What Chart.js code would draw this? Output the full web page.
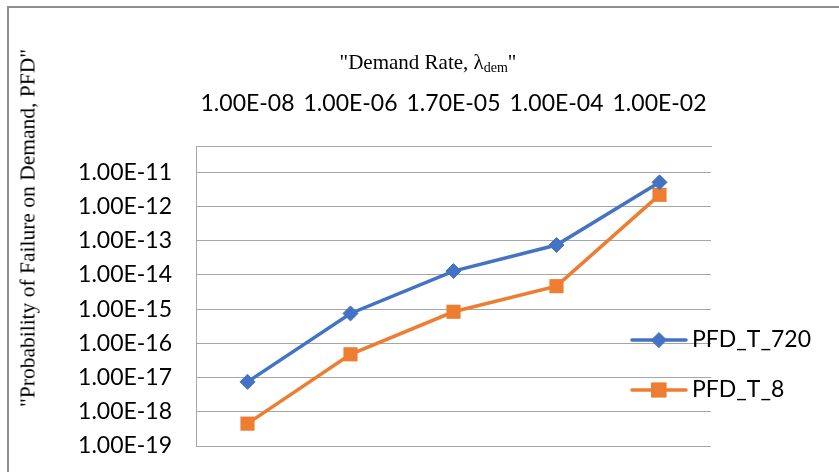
<!DOCTYPE html>
<html>
<head>
<meta charset="utf-8">
<script src="https://cdn.jsdelivr.net/npm/chart.js@4.4.0/dist/chart.umd.min.js"></script>
<style>
  html, body { margin: 0; padding: 0; background: #fff; overflow: hidden; }
  #wrap { position: relative; width: 839px; height: 472px; overflow: hidden; }
  #frame { position: absolute; left: 7px; top: 6px; width: 900px; height: 600px;
           border: 2px solid #8e8e8e; box-sizing: border-box; }
  canvas { position: absolute; left: 0; top: 0; }
  #xTitle { position: absolute; left: 428px; top: 62px; transform: translate(-50%, -50%);
            font: 21px "Liberation Serif", serif; white-space: nowrap; color: #000; }
  #xTitle sub { font-size: 14px; vertical-align: -3px; line-height: 0; }
  #yTitle { position: absolute; left: 28px; top: 228px; transform: translate(-50%, -50%) rotate(-90deg);
            font: 21.5px "Liberation Serif", serif; white-space: nowrap; color: #000; }
</style>
</head>
<body>
<div id="wrap">
  <div id="frame"></div>
  <canvas id="chart" width="839" height="472"></canvas>
  <div id="xTitle">"Demand Rate, λ<sub>dem</sub>"</div>
  <div id="yTitle">"Probability of Failure on Demand, PFD"</div>
</div>
<script>
// Demand rates (category axis, drawn along the top)
const demandRates = ['1.00E-08', '1.00E-06', '1.70E-05', '1.00E-04', '1.00E-02'];

// Probability of failure on demand for the two test intervals
const pfdT720 = [7.5e-18, 7.5e-16, 1.3e-14, 7.5e-14, 5.1e-12];
const pfdT8   = [4.5e-19, 4.8e-17, 8.4e-16, 4.7e-15, 2.2e-12];

const seriesNames = ['PFD_T_720', 'PFD_T_8'];

// Logarithmic PFD axis: one tick per decade
const pfdTickValues = [1e-11, 1e-12, 1e-13, 1e-14, 1e-15, 1e-16, 1e-17, 1e-18, 1e-19];
const pfdTickLabels = ['1.00E-11', '1.00E-12', '1.00E-13', '1.00E-14', '1.00E-15',
                       '1.00E-16', '1.00E-17', '1.00E-18', '1.00E-19'];

const BLUE = '#4472C4';
const ORANGE = '#ED7D31';
const GRID = '#a6a6a6';
const SANS = 'Lato, "Open Sans", sans-serif';

// Legend drawn at the right edge, overlapping the plot area
const sideLegend = {
  id: 'sideLegend',
  afterDraw(chart, args, opts) {
    const ctx = chart.ctx;
    chart.data.datasets.forEach((ds, i) => {
      const y = opts.top + i * opts.spacing;
      ctx.save();
      ctx.strokeStyle = ds.borderColor;
      ctx.lineWidth = ds.borderWidth;
      ctx.lineCap = 'round';
      ctx.beginPath();
      ctx.moveTo(opts.left, y);
      ctx.lineTo(opts.left + opts.lineLength, y);
      ctx.stroke();
      ctx.fillStyle = ds.pointBackgroundColor;
      ctx.strokeStyle = ds.pointBackgroundColor;
      ctx.lineWidth = 1;
      Chart.helpers.drawPoint(ctx, {
        pointStyle: ds.pointStyle, radius: ds.pointRadius, rotation: 0, borderWidth: 1
      }, opts.left + opts.lineLength / 2, y);
      ctx.fillStyle = '#000';
      ctx.font = opts.font;
      ctx.textBaseline = 'middle';
      ctx.textAlign = 'left';
      ctx.fillText(ds.label, opts.textX, y);
      ctx.restore();
    });
  }
};

new Chart(document.getElementById('chart'), {
  type: 'line',
  data: {
    labels: demandRates,
    datasets: [
      {
        label: seriesNames[0],
        data: pfdT720,
        borderColor: BLUE,
        backgroundColor: BLUE,
        pointBackgroundColor: BLUE,
        pointBorderColor: BLUE,
        borderWidth: 3.5,
        pointStyle: 'rectRot',
        pointRadius: 7.5,
        pointBorderWidth: 1,
        tension: 0
      },
      {
        label: seriesNames[1],
        data: pfdT8,
        borderColor: ORANGE,
        backgroundColor: ORANGE,
        pointBackgroundColor: ORANGE,
        pointBorderColor: ORANGE,
        borderWidth: 3.5,
        pointStyle: 'rect',
        pointRadius: 10,
        pointBorderWidth: 0,
        tension: 0
      }
    ]
  },
  options: {
    responsive: false,
    animation: false,
    layout: { padding: { left: 0, top: 0, right: 128, bottom: 26 } },
    plugins: {
      legend: { display: false },
      tooltip: { enabled: false },
      sideLegend: {
        left: 632, lineLength: 54, top: 340, spacing: 50, textX: 692,
        font: '23px ' + SANS
      }
    },
    scales: {
      x: {
        type: 'category',
        position: 'top',
        offset: true,
        grid: { display: false, drawTicks: false },
        border: { display: true, color: GRID, width: 1 },
        ticks: {
          font: { family: SANS, size: 23 },
          color: '#000',
          padding: 29,
          maxRotation: 0,
          autoSkip: false
        },
        afterFit(scale) { scale.height = 146; }
      },
      y: {
        type: 'logarithmic',
        position: 'left',
        min: 1e-19,
        max: Math.pow(10, -10.23),
        bounds: 'data',
        // invisible tick marks keep the labels clear of the axis line
        grid: { color: GRID, lineWidth: 1, drawTicks: true, tickLength: 24, tickColor: 'rgba(0,0,0,0)' },
        border: { display: true, color: GRID, width: 1 },
        ticks: {
          font: { family: SANS, size: 23 },
          color: '#000',
          padding: 0,
          autoSkip: false,
          callback: (value, index) => pfdTickLabels[index]
        },
        afterBuildTicks(scale) {
          scale.ticks = pfdTickValues.map(v => ({ value: v }));
        },
        afterFit(scale) { scale.width = 196; }
      }
    }
  },
  plugins: [sideLegend]
});
</script>
</body>
</html>
